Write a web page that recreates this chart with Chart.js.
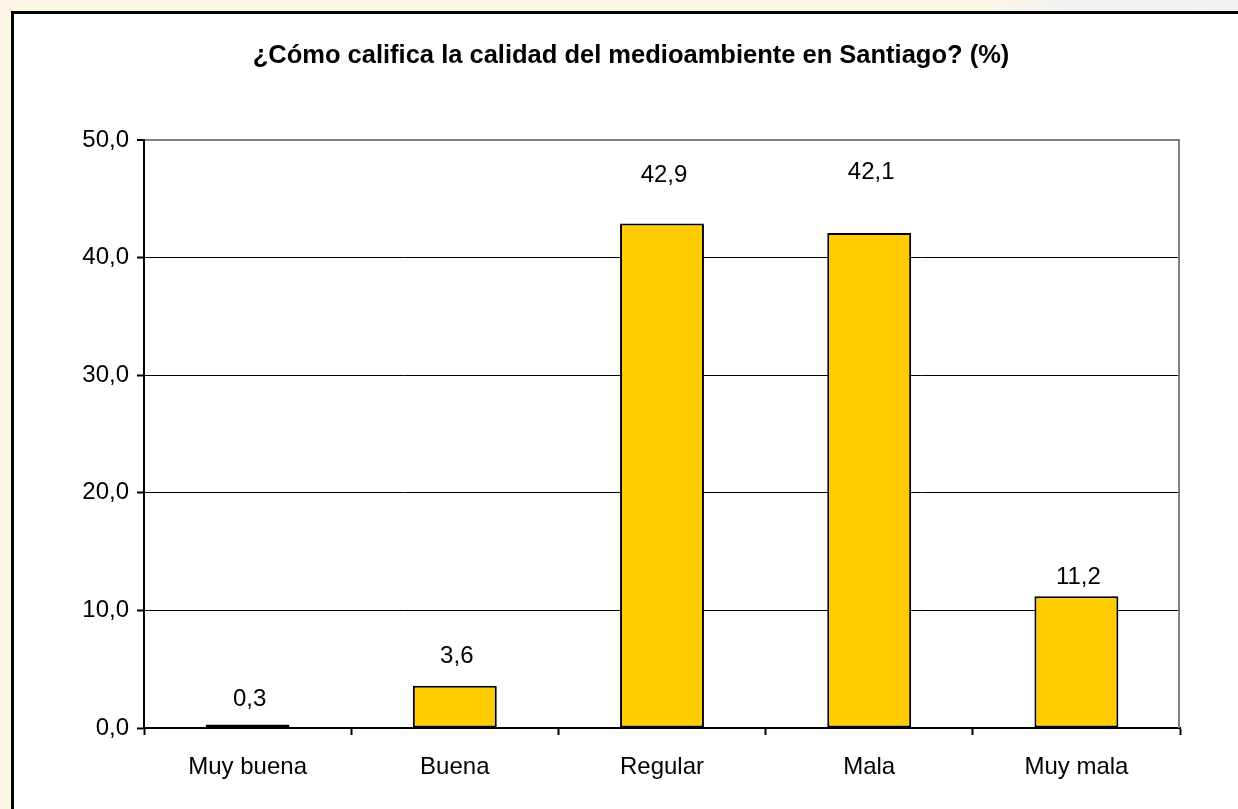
<!DOCTYPE html>
<html lang="es">

<head>
  <meta charset="utf-8">
  <title>Calidad del medioambiente en Santiago</title>
  <script src="https://cdn.jsdelivr.net/npm/chart.js@4.4.1/dist/chart.umd.min.js"></script>
  <style>
    html, body { margin: 0; padding: 0; overflow: hidden; background: #fef6e6; }
    canvas { display: block; }
  </style>
</head>

<body>
  <canvas id="myChart" width="1238" height="809"></canvas>

  <script>
    // chart data
    const titleText = '¿Cómo califica la calidad del medioambiente en Santiago? (%)';
    const categories = ['Muy buena', 'Buena', 'Regular', 'Mala', 'Muy mala'];
    const values = [0.3, 3.6, 42.9, 42.1, 11.2];
    const yTicks = [0, 10, 20, 30, 40, 50];

    const fmt = v => v.toFixed(1).replace('.', ',');
    const FONT = "'Liberation Sans', Arial, sans-serif";

    // page background, the framed white box and the title
    const framePlugin = {
      id: 'frame',
      beforeDraw(chart) {
        const ctx = chart.ctx;
        ctx.save();
        const g = ctx.createLinearGradient(0, 0, chart.width, 0);
        g.addColorStop(0, '#fef6e6');
        g.addColorStop(0.8, '#fef6e6');
        g.addColorStop(0.86, '#f4f3f2');
        g.addColorStop(1, '#f3f3f5');
        ctx.fillStyle = g;
        ctx.fillRect(0, 0, chart.width, chart.height);
        ctx.fillStyle = '#ffffff';
        ctx.fillRect(12, 12, chart.width, chart.height);
        ctx.strokeStyle = '#000000';
        ctx.lineWidth = 3;
        ctx.strokeRect(12.5, 12.5, chart.width + 20, chart.height + 20);

        ctx.fillStyle = '#000000';
        ctx.font = 'bold 25.5px ' + FONT;
        ctx.textAlign = 'center';
        ctx.textBaseline = 'alphabetic';
        ctx.fillText(titleText, 631, 63);
        ctx.restore();
      },
      beforeDatasetsDraw(chart) {
        // grey right edge of the plot area
        const a = chart.chartArea;
        const ctx = chart.ctx;
        ctx.save();
        ctx.strokeStyle = '#808080';
        ctx.lineWidth = 2;
        ctx.beginPath();
        ctx.moveTo(a.right - 1, a.top - 1);
        ctx.lineTo(a.right - 1, a.bottom);
        ctx.stroke();
        ctx.restore();
      }
    };

    // value labels above the bars (lift in px above each bar top)
    const labelLift = [25, 29, 48, 61, 19];
    const valueLabels = {
      id: 'valueLabels',
      afterDatasetsDraw(chart) {
        const ctx = chart.ctx;
        const meta = chart.getDatasetMeta(0);
        ctx.save();
        ctx.fillStyle = '#000000';
        ctx.font = '24px ' + FONT;
        ctx.textAlign = 'center';
        ctx.textBaseline = 'middle';
        meta.data.forEach((bar, i) => {
          ctx.fillText(fmt(values[i]), bar.x + 2, bar.y - labelLift[i]);
        });
        ctx.restore();
      }
    };

    Chart.defaults.font.family = FONT;
    Chart.defaults.font.size = 24;
    Chart.defaults.color = '#000000';

    const ctx = document.getElementById('myChart');
    const myChart = new Chart(ctx, {
      type: 'bar',
      data: {
        labels: categories,
        datasets: [{
          data: values,
          backgroundColor: '#ffcc00',
          borderColor: '#000000',
          borderWidth: 2,
          borderSkipped: false,
          categoryPercentage: 1,
          barPercentage: 0.405
        }]
      },
      options: {
        responsive: false,
        devicePixelRatio: 1,
        animation: false,
        layout: { padding: { top: 140, right: 58, bottom: 0, left: 0 } },
        plugins: {
          legend: { display: false },
          title: { display: false },
          tooltip: { enabled: false }
        },
        scales: {
          x: {
            offset: true,
            afterFit: s => { s.height = 81; },
            grid: {
              offset: true,
              drawOnChartArea: false,
              drawTicks: true,
              tickLength: 7,
              tickColor: '#000000',
              tickWidth: 2
            },
            border: { display: true, color: '#000000', width: 2 },
            ticks: { padding: 18, font: { size: 24 }, color: '#000000', maxRotation: 0 }
          },
          y: {
            min: yTicks[0],
            max: yTicks[yTicks.length - 1],
            afterFit: s => { s.width = 144; },
            afterBuildTicks: s => { s.ticks = yTicks.map(v => ({ value: v })); },
            grid: {
              color: c => (c.tick && c.tick.value === 50) ? '#808080' : '#000000',
              lineWidth: c => (c.tick && c.tick.value === 50) ? 2 : 1,
              tickLength: 7,
              tickColor: '#000000',
              tickWidth: 2
            },
            border: { display: true, color: '#000000', width: 2 },
            ticks: {
              padding: 8,
              font: { size: 24 },
              color: '#000000',
              callback: v => fmt(v)
            }
          }
        }
      },
      plugins: [framePlugin, valueLabels]
    });
  </script>
</body>

</html>
